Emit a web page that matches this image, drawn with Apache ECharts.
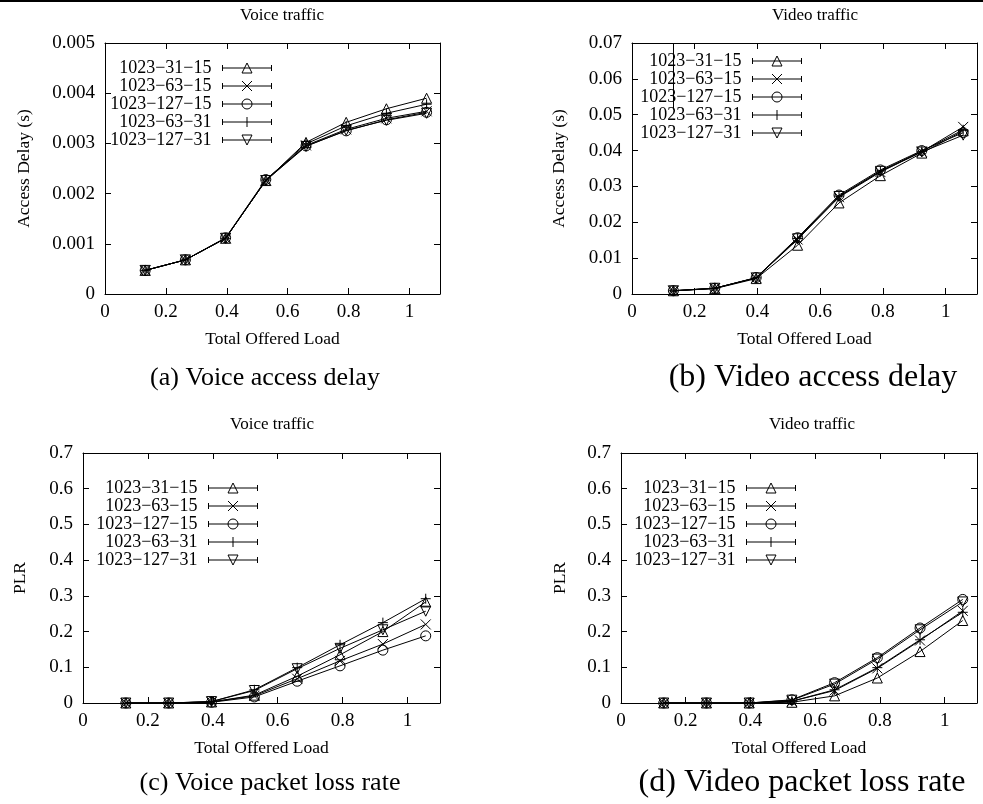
<!DOCTYPE html>
<html>
<head>
<meta charset="utf-8">
<script src="https://cdn.jsdelivr.net/npm/echarts@6/dist/echarts.min.js"></script>
<style>
html,body{margin:0;padding:0;background:#fff;}
#chart{width:983px;height:804px;}
</style>
</head>
<body>
<div id="chart"></div>
<script>
// ---- data ----
const loads = [0.132, 0.264, 0.396, 0.528, 0.66, 0.792, 0.924, 1.056];
const seriesNames = ['1023\u221231\u221215', '1023\u221263\u221215', '1023\u2212127\u221215', '1023\u221263\u221231', '1023\u2212127\u221231'];
const xTicks = [0, 0.2, 0.4, 0.6, 0.8, 1];

// (a) voice access delay (s), rows in seriesNames order
const voiceDelay = [
  [0.00047, 0.00068, 0.00111, 0.00226, 0.00302, 0.00342, 0.00369, 0.00390],
  [0.00047, 0.00068, 0.00111, 0.00226, 0.00296, 0.00328, 0.00350, 0.00364],
  [0.00047, 0.00068, 0.00112, 0.00228, 0.00295, 0.00325, 0.00347, 0.00362],
  [0.00047, 0.00068, 0.00111, 0.00227, 0.00299, 0.00335, 0.00360, 0.00378],
  [0.00047, 0.00068, 0.00111, 0.00226, 0.00294, 0.00326, 0.00346, 0.00360]
];
// (b) video access delay (s)
const videoDelay = [
  [0.0009, 0.0015, 0.0043, 0.0136, 0.0254, 0.0330, 0.0393, 0.0455],
  [0.0009, 0.0016, 0.0045, 0.0152, 0.0270, 0.0340, 0.0397, 0.0466],
  [0.0009, 0.0016, 0.0046, 0.0157, 0.0276, 0.0346, 0.0400, 0.0450],
  [0.0009, 0.0016, 0.0045, 0.0155, 0.0273, 0.0343, 0.0398, 0.0458],
  [0.0009, 0.0016, 0.0045, 0.0154, 0.0272, 0.0342, 0.0396, 0.0443]
];
// error bar visible on the first point of 1023-63-31 in (b): [x, low, high]
const videoDelayErrorBar = [0.132, 0.0514, 0.07];
// (c) voice packet loss rate
const voicePLR = [
  [0, 0, 0.003, 0.022, 0.075, 0.135, 0.200, 0.283],
  [0, 0, 0.003, 0.020, 0.068, 0.118, 0.165, 0.220],
  [0, 0, 0.002, 0.017, 0.061, 0.104, 0.148, 0.188],
  [0, 0, 0.004, 0.037, 0.099, 0.163, 0.225, 0.292],
  [0, 0, 0.004, 0.035, 0.096, 0.153, 0.205, 0.257]
];
// (d) video packet loss rate
const videoPLR = [
  [0, 0, 0, 0.002, 0.020, 0.070, 0.144, 0.231],
  [0, 0, 0, 0.005, 0.035, 0.097, 0.175, 0.258],
  [0, 0, 0, 0.009, 0.057, 0.127, 0.210, 0.290],
  [0, 0, 0, 0.005, 0.037, 0.099, 0.177, 0.254],
  [0, 0, 0, 0.008, 0.053, 0.123, 0.205, 0.283]
];
const panelTitles = ['Voice traffic', 'Video traffic', 'Voice traffic', 'Video traffic'];
const captions = ['(a) Voice access delay', '(b) Video access delay', '(c) Voice packet loss rate', '(d) Video packet loss rate'];
const yNames = ['Access Delay (s)', 'Access Delay (s)', 'PLR', 'PLR'];
const xName = 'Total Offered Load';

// ---- styling / layout ----
const FONT = 'Liberation Serif';
const symbols = [
  {symbol: 'triangle', rotate: 0},
  {symbol: 'path://M0,0L10,10M10,0L0,10', rotate: 0},
  {symbol: 'circle', rotate: 0},
  {symbol: 'path://M5,0L5,10M0,5L10,5', rotate: 0},
  {symbol: 'triangle', rotate: 180}
];
const base = 'M0,2L0,8M0,5L49,5M49,2L49,8';
const legendIcons = [
  'path://' + base + 'M19.5,10L24.5,0L29.5,10Z',
  'path://' + base + 'M19.5,0L29.5,10M29.5,0L19.5,10',
  'path://' + base + 'M29.5,5A5,5,0,1,1,19.5,5A5,5,0,1,1,29.5,5Z',
  'path://' + base + 'M24.5,0L24.5,10',
  'path://' + base + 'M19.5,0L24.5,10L29.5,0Z'
];

const panels = [
  {data: voiceDelay, grid: {left: 105, top: 43, width: 335, height: 251}, y: [0, 0.005, 0.001], yNameGap: 72,
   legend: {right: 711, top: 59}, title: [282, 16], caption: [265, 378, 26]},
  {data: videoDelay, grid: {left: 632, top: 43, width: 345, height: 251}, y: [0, 0.07, 0.01], yNameGap: 64,
   legend: {right: 181, top: 52}, title: [815, 16], caption: [813, 378, 32]},
  {data: voicePLR, grid: {left: 83, top: 453, width: 357, height: 250}, y: [0, 0.7, 0.1], yNameGap: 54,
   legend: {right: 725, top: 479}, title: [272, 425], caption: [270, 783, 26]},
  {data: videoPLR, grid: {left: 621, top: 453, width: 356, height: 250}, y: [0, 0.7, 0.1], yNameGap: 52,
   legend: {right: 187, top: 479}, title: [812, 425], caption: [802, 783, 32]}
];

const grids = [], xAxes = [], yAxes = [], series = [], legends = [], graphics = [];
const tickStyle = {show: true, inside: true, length: 6, lineStyle: {color: '#000', width: 1}};
const lineSt = {show: true, onZero: false, lineStyle: {color: '#000', width: 1}};

panels.forEach((p, pi) => {
  grids.push(Object.assign({containLabel: false}, p.grid));
  xAxes.push({
    type: 'value', gridIndex: pi, min: 0, max: 1.1, interval: 0.2, position: 'bottom',
    axisLine: lineSt, axisTick: tickStyle, splitLine: {show: false},
    axisLabel: {show: true, showMaxLabel: false, margin: 9, color: '#000', fontFamily: FONT, fontSize: 19,
      formatter: v => (xTicks.some(t => Math.abs(t - v) < 1e-9) ? String(+v.toFixed(1)) : '')},
    name: xName, nameLocation: 'middle', nameGap: 36,
    nameTextStyle: {color: '#000', fontFamily: FONT, fontSize: 17.5}
  });
  xAxes.push({
    type: 'value', gridIndex: pi, min: 0, max: 1.1, interval: 0.2, position: 'top',
    axisLine: lineSt, axisTick: tickStyle, axisLabel: {show: false}, splitLine: {show: false}
  });
  yAxes.push({
    type: 'value', gridIndex: pi, min: p.y[0], max: p.y[1], interval: p.y[2], position: 'left',
    axisLine: lineSt, axisTick: tickStyle, splitLine: {show: false},
    axisLabel: {margin: 10, color: '#000', fontFamily: FONT, fontSize: 19},
    name: yNames[pi], nameLocation: 'middle', nameGap: p.yNameGap, nameRotate: 90,
    nameTextStyle: {color: '#000', fontFamily: FONT, fontSize: 17.5}
  });
  yAxes.push({
    type: 'value', gridIndex: pi, min: p.y[0], max: p.y[1], interval: p.y[2], position: 'right',
    axisLine: lineSt, axisTick: tickStyle, axisLabel: {show: false}, splitLine: {show: false}
  });
  p.data.forEach((row, si) => {
    const s = {
      type: 'line', name: seriesNames[si], id: 'p' + pi + 's' + si,
      xAxisIndex: pi * 2, yAxisIndex: pi * 2,
      data: loads.map((x, i) => [x, row[i]]),
      symbol: symbols[si].symbol, symbolRotate: symbols[si].rotate, symbolSize: 10,
      showAllSymbol: true,
      lineStyle: {color: '#000', width: 1},
      itemStyle: {color: 'rgba(0,0,0,0)', borderColor: '#000', borderWidth: 1},
      emphasis: {disabled: true}, silent: true, animation: false
    };
    if (pi === 1 && si === 3) {
      s.markLine = {
        silent: true, symbol: ['none', 'none'], label: {show: false}, animation: false,
        lineStyle: {color: '#000', width: 1, type: 'solid'},
        emphasis: {disabled: true},
        data: [[{coord: [videoDelayErrorBar[0], videoDelayErrorBar[1]]}, {coord: [videoDelayErrorBar[0], videoDelayErrorBar[2]]}]]
      };
    }
    series.push(s);
  });
  legends.push({
    orient: 'vertical', align: 'right', right: p.legend.right, top: p.legend.top,
    itemWidth: 49, itemHeight: 10, itemGap: 0, selectedMode: false, padding: 0,
    data: seriesNames.map((n, si) => ({name: n, icon: legendIcons[si]})),
    itemStyle: {color: 'rgba(0,0,0,0)', borderColor: '#000', borderWidth: 1},
    textStyle: {color: '#000', fontFamily: FONT, fontSize: 18, lineHeight: 18, padding: [0, 6, 0, 0]}
  });
  graphics.push({type: 'text', x: p.title[0], y: p.title[1], silent: true,
    style: {text: panelTitles[pi], fill: '#000', font: '17px "' + FONT + '"', textAlign: 'center', textVerticalAlign: 'middle'}});
  graphics.push({type: 'text', x: p.caption[0], y: p.caption[1], silent: true,
    style: {text: captions[pi], fill: '#000', font: p.caption[2] + 'px "' + FONT + '"', textAlign: 'center', textVerticalAlign: 'middle'}});
});
graphics.push({type: 'rect', shape: {x: 0, y: 0, width: 983, height: 2}, style: {fill: '#000'}, silent: true});

const chart = echarts.init(document.getElementById('chart'), null, {renderer: 'canvas'});
chart.setOption({
  backgroundColor: '#fff',
  animation: false,
  grid: grids, xAxis: xAxes, yAxis: yAxes, series: series, legend: legends, graphic: graphics
});
</script>
</body>
</html>
